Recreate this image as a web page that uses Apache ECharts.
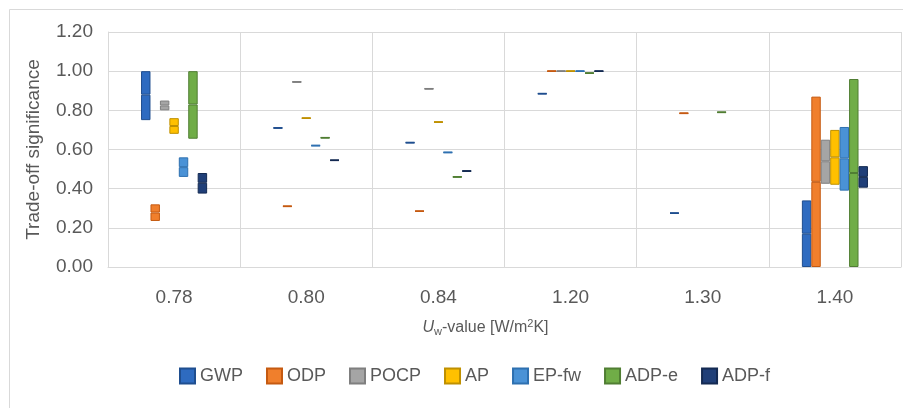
<!DOCTYPE html>
<html>
<head>
<meta charset="utf-8">
<script src="https://cdn.jsdelivr.net/npm/echarts@6/dist/echarts.min.js"></script>
<style>html,body{margin:0;padding:0;background:#fff;}#c{width:903px;height:408px;}</style>
</head>
<body>
<div id="c"></div>
<script>
const categories = ['0.78', '0.80', '0.84', '1.20', '1.30', '1.40'];
const yTicks = [0, 0.2, 0.4, 0.6, 0.8, 1.0, 1.2];
const seriesNames = ['GWP', 'ODP', 'POCP', 'AP', 'EP-fw', 'ADP-e', 'ADP-f'];

// low / median / high per impact category (null = no value)
const gwpLow  = [0.75, 0.707, 0.632, 0.882, 0.272, 0.00];
const gwpMed  = [0.88, 0.710, 0.635, 0.885, 0.275, 0.17];
const gwpHigh = [1.00, 0.713, 0.638, 0.888, 0.278, 0.34];

const odpLow  = [0.235, 0.307, 0.282, 0.997, 0.782, 0.00];
const odpMed  = [0.278, 0.310, 0.285, 1.000, 0.785, 0.435];
const odpHigh = [0.320, 0.313, 0.288, 1.003, 0.788, 0.87];

const pocpLow  = [0.80, 0.942, 0.907, 0.997, null, 0.425];
const pocpMed  = [0.825, 0.945, 0.910, 1.000, null, 0.54];
const pocpHigh = [0.85, 0.948, 0.913, 1.003, null, 0.65];

const apLow  = [0.68, 0.757, 0.737, 0.997, null, 0.42];
const apMed  = [0.72, 0.760, 0.740, 1.000, null, 0.56];
const apHigh = [0.76, 0.763, 0.743, 1.003, null, 0.70];

const epLow  = [0.46, 0.617, 0.582, 0.997, null, 0.39];
const epMed  = [0.51, 0.620, 0.585, 1.000, null, 0.555];
const epHigh = [0.56, 0.623, 0.588, 1.003, null, 0.715];

const adpeLow  = [0.655, 0.657, 0.457, 0.987, 0.787, 0.00];
const adpeMed  = [0.83, 0.660, 0.460, 0.990, 0.790, 0.48];
const adpeHigh = [1.00, 0.663, 0.463, 0.993, 0.793, 0.96];

const adpfLow  = [0.375, 0.542, 0.487, 0.997, null, 0.405];
const adpfMed  = [0.43, 0.545, 0.490, 1.000, null, 0.46];
const adpfHigh = [0.48, 0.548, 0.493, 1.003, null, 0.515];

const lows  = [gwpLow, odpLow, pocpLow, apLow, epLow, adpeLow, adpfLow];
const meds  = [gwpMed, odpMed, pocpMed, apMed, epMed, adpeMed, adpfMed];
const highs = [gwpHigh, odpHigh, pocpHigh, apHigh, epHigh, adpeHigh, adpfHigh];

const fills   = ['#2e6bc0', '#f07f2c', '#a5a5a5', '#ffc000', '#4a92d6', '#70ad47', '#203f78'];
const borders = ['#1f4e8f', '#c55a11', '#7f7f7f', '#bf9000', '#2e70b0', '#507e33', '#142a52'];

const FONT = '"Liberation Sans", Arial, sans-serif';
const TXT = '#595959';

const series = [];
seriesNames.forEach((name, i) => {
  const diff = (a, b) => a.map((v, k) => (v == null || b[k] == null) ? null : +(v - b[k]).toFixed(4));
  series.push({
    name: '_base' + i, type: 'bar', stack: 's' + i, silent: true,
    data: lows[i], itemStyle: { color: 'rgba(0,0,0,0)' },
    barGap: '0%', barCategoryGap: '50%'
  });
  series.push({
    name: name, type: 'bar', stack: 's' + i,
    data: diff(meds[i], lows[i]),
    itemStyle: { color: fills[i], borderColor: borders[i], borderWidth: 1 },
    barGap: '0%', barCategoryGap: '50%'
  });
  series.push({
    name: name, type: 'bar', stack: 's' + i,
    data: diff(highs[i], meds[i]),
    itemStyle: { color: fills[i], borderColor: borders[i], borderWidth: 1 },
    barGap: '0%', barCategoryGap: '50%'
  });
});

const chart = echarts.init(document.getElementById('c'), null, { renderer: 'canvas' });
chart.setOption({
  animation: false,
  backgroundColor: '#fff',
  textStyle: { fontFamily: FONT },
  graphic: [{
    type: 'rect', silent: true, z: -10,
    shape: { x: 9.5, y: 9.5, width: 1000, height: 1000 },
    style: { fill: 'none', stroke: '#d9d9d9', lineWidth: 1 }
  }],
  grid: { left: 108, right: 2, top: 32, bottom: 141 },
  legend: {
    data: seriesNames,
    top: 362, left: 174,
    itemWidth: 15, itemHeight: 15, itemGap: 23,
    icon: 'rect',
    textStyle: { fontFamily: FONT, fontSize: 18, color: TXT }
  },
  xAxis: {
    type: 'category', data: categories,
    axisLine: { lineStyle: { color: '#d9d9d9' } },
    axisTick: { show: false },
    splitLine: { show: true, lineStyle: { color: '#d9d9d9' } },
    axisLabel: { margin: 21, fontSize: 19, color: TXT, fontFamily: FONT },
    name: '{i|U}{sub|w}{n|-value [W/m}{sup|2}{n|K]}',
    nameLocation: 'middle', nameGap: 51,
    nameTextStyle: {
      color: TXT, fontFamily: FONT, fontSize: 16, padding: [0, 38, 0, 0],
      rich: {
        i: { fontStyle: 'italic', fontSize: 16, color: TXT, fontFamily: FONT },
        n: { fontSize: 16, color: TXT, fontFamily: FONT },
        sub: { fontSize: 11, color: TXT, fontFamily: FONT, verticalAlign: 'bottom', padding: [8, 0, 0, 0] },
        sup: { fontSize: 11, color: TXT, fontFamily: FONT, verticalAlign: 'top', padding: [0, 0, 6, 0] }
      }
    }
  },
  yAxis: {
    type: 'value', min: 0, max: 1.2, interval: 0.2,
    axisLine: { show: true, lineStyle: { color: '#d9d9d9' } },
    axisTick: { show: false },
    splitLine: { lineStyle: { color: '#d9d9d9' } },
    axisLabel: {
      margin: 15, fontSize: 19, color: TXT, fontFamily: FONT,
      customValues: yTicks,
      formatter: v => v.toFixed(2)
    },
    name: 'Trade-off significance',
    nameLocation: 'middle', nameGap: 65,
    nameTextStyle: { color: TXT, fontFamily: FONT, fontSize: 19 }
  },
  series: series
});
</script>
</body>
</html>
